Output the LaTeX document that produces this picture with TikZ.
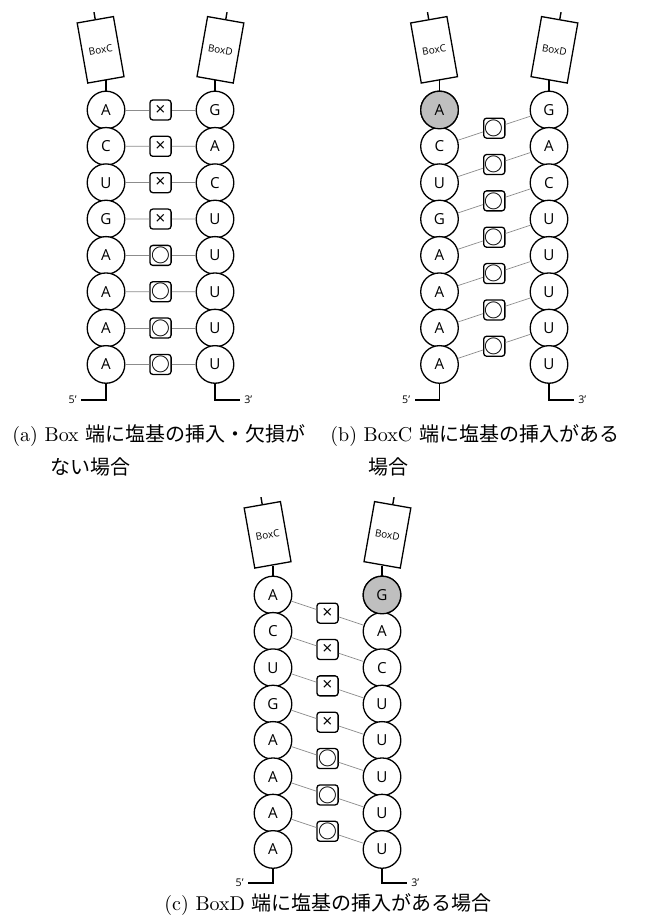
\documentclass[tikz,border=0pt]{standalone}
\usepackage{fontspec}
\newfontfamily\ofont{Open Sans}
\newfontfamily\cjk{Noto Sans CJK JP}
\usetikzlibrary{calc}
\tikzset{
  base/.style={circle, draw, line width=0.65pt, minimum size=18.8pt, inner sep=0pt, fill=white,
    font=\ofont\fontsize{7.6pt}{8pt}\selectfont},
  hl/.style={fill=black!25},
  pbox/.style={draw, rounded corners=1.5pt, line width=0.65pt, fill=white, minimum width=10.6pt,
    minimum height=10pt, inner sep=0pt},
  okmark/.style={pbox, font=\cjk\bfseries\fontsize{9.4pt}{9.4pt}\selectfont},
  ngmark/.style={pbox, font=\ofont\fontsize{8.8pt}{9pt}\selectfont},
  boxlbl/.style={draw, line width=0.65pt, minimum width=18.4pt, minimum height=30.5pt, inner sep=0pt,
    fill=white, font=\ofont\fontsize{5pt}{5pt}\selectfont},
  pair/.style={draw=gray!90, line width=0.35pt},
  strand/.style={line width=0.7pt},
  endlbl/.style={font=\ofont\fontsize{5.3pt}{6pt}\selectfont, inner sep=0pt},
  captxt/.style={inner sep=0pt, font=\fontsize{10pt}{12pt}\selectfont}
}
\begin{document}
\begin{tikzpicture}[x=0.5pt,y=-0.5pt]
\useasboundingbox (0,0) rectangle (656,924);
\fill[white] (0,0) rectangle (656,924);

% ---------------- panel (a)
\foreach \t [count=\i] in {A,C,U,G,A,A,A,A}
  \node[base] (aL\i) at (106,{110+(\i-1)*36.35}) {\t};
\foreach \t [count=\i] in {G,A,C,U,U,U,U,U}
  \node[base] (aR\i) at (215,{110+(\i-1)*36.35}) {\t};
\foreach \s/\m [count=\i] in {ngmark/×,ngmark/×,ngmark/×,ngmark/×,okmark/○,okmark/○,okmark/○,okmark/○}{
  \node[\s] (aM\i) at ($(aL\i)!0.5!(aR\i)$) {\m};
  \draw[pair] (aL\i) -- (aM\i);
  \draw[pair] (aM\i) -- (aR\i);
}
\node[boxlbl, rotate=10, anchor=south] (aBC) at (106,80.5) {BoxC};
\node[boxlbl, rotate=-10, anchor=south] (aBD) at (215,80.5) {BoxD};
\draw[strand] (aBC.south) -- (aL1.north);
\draw[strand] (aBD.south) -- (aR1.north);
\draw[strand] (aBC.north) -- ++(-1.2,-7);
\draw[strand] (aBD.north) -- ++(1.2,-7);
\coordinate (a5) at (81,400);
\coordinate (a3) at (240,400);
\draw[strand] (aL8.south) |- (a5);
\draw[strand] (aR8.south) |- (a3);
\node[endlbl, anchor=east] (a5l) at (77,400) {5’};
\node[endlbl, anchor=west] (a3l) at (244,400) {3’};

% ---------------- panel (b)
\foreach \t [count=\i] in {A,C,U,G,A,A,A,A}
  \node[base] (bL\i) at (439.5,{110+(\i-1)*36.35}) {\t};
\node[base, hl] at (bL1) {A};
\foreach \t [count=\i] in {G,A,C,U,U,U,U,U}
  \node[base] (bR\i) at (549,{110+(\i-1)*36.35}) {\t};
\foreach \i [evaluate=\i as \j using int(\i+1)] in {1,...,7}{
  \node[okmark] (bM\i) at ($(bL\j)!0.5!(bR\i)$) {○};
  \draw[pair] (bL\j) -- (bM\i);
  \draw[pair] (bM\i) -- (bR\i);
}
\node[boxlbl, rotate=10, anchor=south] (bBC) at (439.5,80.5) {BoxC};
\node[boxlbl, rotate=-10, anchor=south] (bBD) at (549,80.5) {BoxD};
\draw[strand] (bBC.south) -- (bL1.north);
\draw[strand] (bBD.south) -- (bR1.north);
\draw[strand] (bBC.north) -- ++(-1.2,-7);
\draw[strand] (bBD.north) -- ++(1.2,-7);
\coordinate (b5) at (414.5,400);
\coordinate (b3) at (574,400);
\draw[strand] (bL8.south) |- (b5);
\draw[strand] (bR8.south) |- (b3);
\node[endlbl, anchor=east] (b5l) at (410.5,400) {5’};
\node[endlbl, anchor=west] (b3l) at (578,400) {3’};

% ---------------- panel (c)
\foreach \t [count=\i] in {A,C,U,G,A,A,A,A}
  \node[base] (cL\i) at (273,{595+(\i-1)*36.35}) {\t};
\foreach \t [count=\i] in {G,A,C,U,U,U,U,U}
  \node[base] (cR\i) at (382,{595+(\i-1)*36.35}) {\t};
\node[base, hl] at (cR1) {G};
\foreach \s/\m [count=\i, evaluate=\i as \j using int(\i+1)] in {ngmark/×,ngmark/×,ngmark/×,ngmark/×,okmark/○,okmark/○,okmark/○}{
  \node[\s] (cM\i) at ($(cL\i)!0.5!(cR\j)$) {\m};
  \draw[pair] (cL\i) -- (cM\i);
  \draw[pair] (cM\i) -- (cR\j);
}
\node[boxlbl, rotate=10, anchor=south] (cBC) at (273,565.5) {BoxC};
\node[boxlbl, rotate=-10, anchor=south] (cBD) at (382,565.5) {BoxD};
\draw[strand] (cBC.south) -- (cL1.north);
\draw[strand] (cBD.south) -- (cR1.north);
\draw[strand] (cBC.north) -- ++(-1.2,-7);
\draw[strand] (cBD.north) -- ++(1.2,-7);
\coordinate (c5) at (248,883);
\coordinate (c3) at (407,883);
\draw[strand] (cL8.south) |- (c5);
\draw[strand] (cR8.south) |- (c3);
\node[endlbl, anchor=east] (c5l) at (244,883) {5’};
\node[endlbl, anchor=west] (c3l) at (411,883) {3’};

% ---------------- captions
\node[captxt, anchor=base west] (capa1) at (12,441) {(a) Box {\cjk 端に塩基の挿入・欠損が}};
\node[captxt, anchor=base west] (capa2) at (50,474) {\cjk ない場合};
\node[captxt, anchor=base west] (capb1) at (330,441) {(b) BoxC {\cjk 端に塩基の挿入がある}};
\node[captxt, anchor=base west] (capb2) at (368,474) {\cjk 場合};
\node[captxt, anchor=base] (capc) at (328,910) {(c) BoxD {\cjk 端に塩基の挿入がある場合}};
\end{tikzpicture}
\end{document}
